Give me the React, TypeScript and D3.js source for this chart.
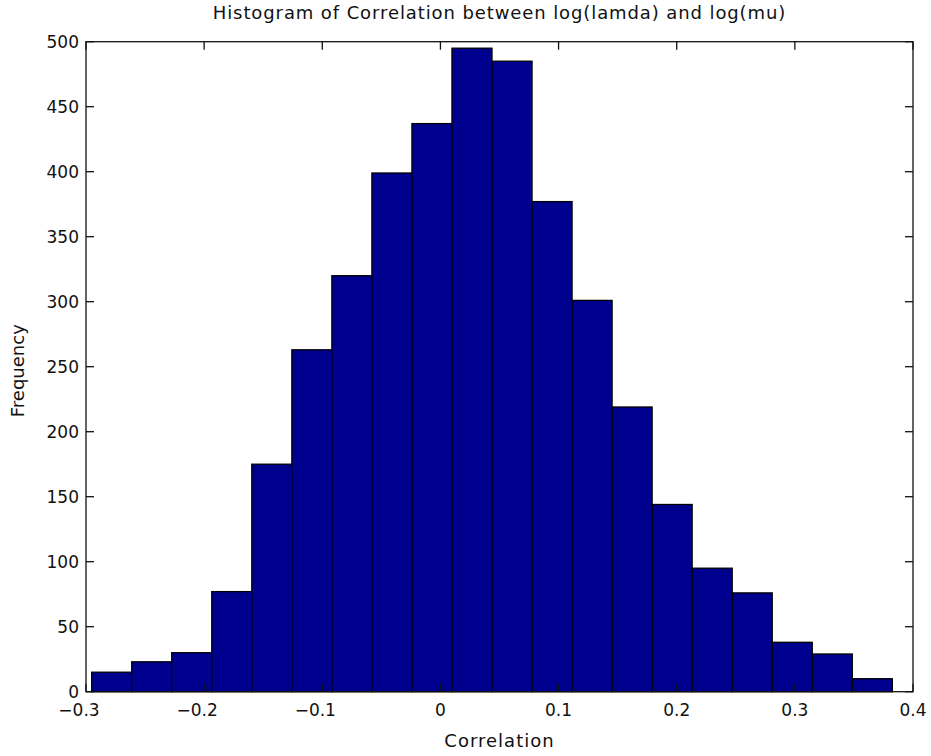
import React from "react";
import * as d3 from "d3";

const counts = [15, 23, 30, 77, 175, 263, 320, 399, 437, 495, 485, 377, 301, 219, 144, 95, 76, 38, 29, 10];
const dataMin = -0.2952;
const dataMax = 0.3825;
const xTicks = [-0.3, -0.2, -0.1, 0, 0.1, 0.2, 0.3, 0.4];
const yTicks = [0, 50, 100, 150, 200, 250, 300, 350, 400, 450, 500];
const title = "Histogram of Correlation between log(lamda) and log(mu)";
const xLabel = "Correlation";
const yLabel = "Frequency";

const W = 931;
const H = 756;
const L = 86, R = 913, T = 41.7, B = 691.7;
const FONT = "DejaVu Sans, sans-serif";

export default function App() {
  const x = d3.scaleLinear().domain([-0.3, 0.4]).range([L, R]);
  const y = d3.scaleLinear().domain([0, 500]).range([B, T]);
  const binW = (dataMax - dataMin) / counts.length;
  const bins = counts.map((c, i) => ({ x0: dataMin + i * binW, x1: dataMin + (i + 1) * binW, c }));
  const tl = 8;
  const fmt = (v: number) => (v === 0 ? "0" : Math.abs(v).toString());
  return (
    <svg width={W} height={H} style={{ position: "absolute", left: 0, top: 0, background: "#fff" }} fontFamily={FONT}>
      <rect x={0} y={0} width={W} height={H} fill="#fff" />
      {bins.map((b, i) => (
        <rect key={i} x={x(b.x0)} y={y(b.c)} width={x(b.x1) - x(b.x0)} height={y(0) - y(b.c)} fill="#00008F" stroke="#000" strokeWidth={1.3} />
      ))}
      <rect x={L} y={T} width={R - L} height={B - T} fill="none" stroke="#111" strokeWidth={1.3} />
      {xTicks.map((t) => (
        <g key={"x" + t}>
          <line x1={x(t)} x2={x(t)} y1={B} y2={B - tl} stroke="#111" strokeWidth={1.3} />
          <line x1={x(t)} x2={x(t)} y1={T} y2={T + tl} stroke="#111" strokeWidth={1.3} />
          <text x={x(t)} y={716} fontSize={17} textAnchor="middle" fill="#111">
            {t < 0 ? <tspan dx={-7}>{"\u2212" + fmt(t)}</tspan> : fmt(t)}
          </text>
        </g>
      ))}
      {yTicks.map((t) => (
        <g key={"y" + t}>
          <line x1={L} x2={L + tl} y1={y(t)} y2={y(t)} stroke="#111" strokeWidth={1.3} />
          <line x1={R} x2={R - tl} y1={y(t)} y2={y(t)} stroke="#111" strokeWidth={1.3} />
          <text x={79} y={y(t)} dy="0.36em" fontSize={17} textAnchor="end" fill="#111">{t}</text>
        </g>
      ))}
      <text x={(L + R) / 2} y={19} fontSize={18} letterSpacing={0.9} textAnchor="middle" fill="#111">{title}</text>
      <text x={(L + R) / 2} y={747} fontSize={18} letterSpacing={1} textAnchor="middle" fill="#111">{xLabel}</text>
      <text transform={`translate(24,${(T + B) / 2 + 4}) rotate(-90)`} fontSize={18} textAnchor="middle" fill="#111">{yLabel}</text>
    </svg>
  );
}
